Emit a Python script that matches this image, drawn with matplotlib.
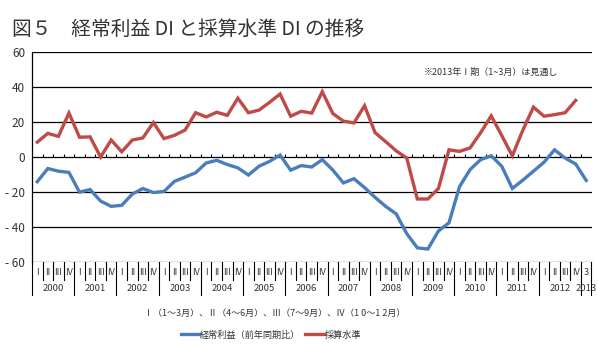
import numpy as np
import matplotlib
matplotlib.use("Agg")
import matplotlib.pyplot as plt
import matplotlib.transforms as mtransforms

plt.rcParams['font.family'] = ['Noto Sans CJK JP', 'DejaVu Sans']

# 2000Q1 .. 2013Q1 (2013Q1 is a forecast)
years = list(range(2000, 2014))
quarter_labels = ['I', 'II', 'III', 'IV']

keijo = [-14.1, -6.6, -8.1, -8.8, -20.1, -18.6, -25.2, -28.2, -27.6, -21.2,
         -18.0, -20.3, -19.7, -13.9, -11.5, -9.0, -3.4, -1.9, -4.3, -6.2,
         -10.3, -5.3, -2.5, 1.1, -7.5, -4.9, -5.7, -1.5, -7.5, -14.8,
         -12.4, -17.5, -23.1, -28.2, -32.5, -43.8, -51.9, -52.6, -42.3, -37.6,
         -16.9, -7.2, -1.5, 0.7, -5.3, -18.0, -13.2, -8.1, -3.0, 4.1,
         -0.6, -4.0, -13.4]
saisan = [8.5, 13.5, 11.8, 25.1, 11.3, 11.5, 0.0, 9.7, 3.0, 9.7,
          10.9, 19.7, 10.5, 12.4, 15.4, 25.3, 22.9, 25.6, 23.8, 33.6,
          25.3, 26.8, 31.2, 36.0, 23.3, 26.1, 25.1, 37.3, 24.8, 20.5,
          19.5, 29.3, 13.9, 8.8, 3.5, -0.6, -24.0, -24.0, -18.0, 4.1,
          3.2, 5.2, 13.9, 23.5, 12.2, 0.7, 15.4, 28.5, 23.3, 24.2,
          25.3, 32.3]

blue = '#4a7ebb'
red = '#be4b48'
txt = '#333333'

fig = plt.figure(figsize=(5.98, 3.5), dpi=100)
ax = fig.add_axes([32 / 598, 1 - 262 / 350, 559.5 / 598, 210 / 350])

n = len(keijo)
x = np.arange(n)
ax.plot(x, keijo, color=blue, lw=2.4, solid_joinstyle='miter', zorder=3,
        label='経常利益（前年同期比）')
ax.plot(x[:len(saisan)], saisan, color=red, lw=2.4, solid_joinstyle='miter',
        zorder=3, label='採算水準')

ax.set_xlim(-0.5, n - 0.5)
ax.set_ylim(-60, 60)
yt = np.arange(-60, 61, 20)
ax.set_yticks(yt)
ax.set_yticklabels([('- %d' % -v) if v < 0 else str(v) for v in yt],
                   fontsize=8.5, color=txt)
ax.tick_params(axis='y', length=0, pad=5)
ax.set_xticks([])
for v in yt:
    ax.axhline(v, color='black', lw=0.9, zorder=1)
for s in ['top', 'right', 'bottom']:
    ax.spines[s].set_visible(False)
ax.spines['left'].set_linewidth(0.9)

# small ticks on the zero line
bounds = np.arange(n + 1) - 0.5
ax.vlines(bounds[1:-1], 0, 1.8, color='black', lw=0.8, zorder=2)

# category axis below the plot
tr = mtransforms.blended_transform_factory(ax.transData, ax.transAxes)
for i in range(n):
    q = i % 4
    lab = quarter_labels[q]
    if i == n - 1:
        lab = '3'
    ax.text(i, -0.05, lab, transform=tr, ha='center', va='center',
            fontsize=6.5, color=txt, clip_on=False)
for b in bounds:
    k = int(b + 0.5)
    low = -0.157 if (k % 4 == 0 or k == n) else -0.085
    ax.plot([b, b], [0, low], transform=tr, color='black', lw=0.8,
            clip_on=False)
for j, yr in enumerate(years):
    idx = [i for i in range(n) if i // 4 == j]
    ax.text(np.mean(idx), -0.125, str(yr), transform=tr, ha='center',
            va='center', fontsize=6.8, color=txt, clip_on=False)

ax.text(0.7, 0.904, '※2013年Ⅰ期（1~3月）は見通し', transform=ax.transAxes,
        fontsize=6.5, color=txt, ha='left', va='center')

fig.text(12 / 598, 1 - 29 / 350, '図５　経常利益 DI と採算水準 DI の推移',
         fontsize=14.2, color=txt, ha='left', va='center')

fig.text(275 / 598, 1 - 313 / 350,
         'Ⅰ（1～3月）、Ⅱ（4～6月）、Ⅲ（7～9月）、Ⅳ（1 0～1 2月）',
         fontsize=6.5, color=txt, ha='center', va='center')

fig.legend(loc='center', bbox_to_anchor=(271 / 598, 1 - 335 / 350), ncol=2,
           frameon=False, fontsize=6.6, handlelength=2.0, handletextpad=0.1,
           columnspacing=0.5, labelcolor=txt)

fig.savefig('out.png', dpi=100)
